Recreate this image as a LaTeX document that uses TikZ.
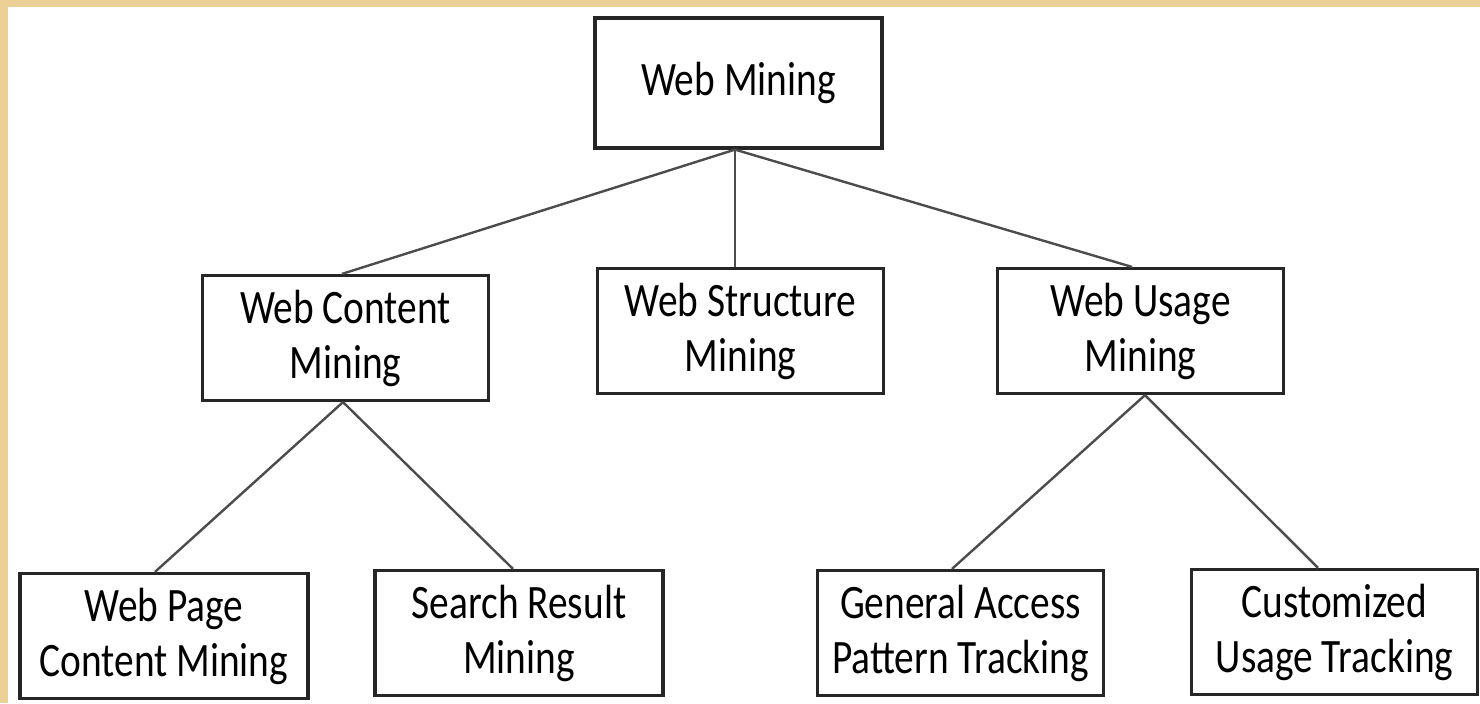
\documentclass[tikz,border=0pt]{standalone}
\usepackage{fontspec}
\setmainfont[FakeStretch=0.82]{Carlito}
\definecolor{parchment}{RGB}{236,208,150}

\begin{document}
\begin{tikzpicture}[x = 0.5pt, y = -0.5pt,
  box/.style = {draw = black!85, line width = 1.6pt, fill = white, align = center, inner sep = 0pt,
    minimum width = 143pt, minimum height = 62.5pt, font = \fontsize{24}{27.5}\selectfont},
  link/.style = {draw = black!70, line width = 1.2pt}]
\useasboundingbox (0,0) rectangle (1480,703);
\fill[parchment] (0,0) rectangle (1480,703);
\fill[white] (8,7) rectangle (1480,703);
% top level
\node[box, minimum width = 143.5pt, minimum height = 65pt] (mining) at (738.5,83) {Web Mining};
% second level
\node[box] (content) at (345.5,338) {Web Content\\Mining};
\node[box] (structure) at (740.5,331) {Web Structure\\Mining};
\node[box] (usage) at (1140.5,331) {Web Usage\\Mining};
% third level
\node[box, minimum width = 144pt] (pagecontent) at (164,636) {Web Page\\Content Mining};
\node[box, minimum width = 144pt] (searchresult) at (519,633) {Search Result\\Mining};
\node[box] (generalaccess) at (960.5,633) {General Access\\Pattern Tracking};
\node[box] (customized) at (1334.5,632) {Customized\\Usage Tracking};
\draw[link] ([xshift=-1.75pt]mining.south) -- ([xshift=-1.75pt]content.north);
\draw[link] ([xshift=-1.75pt]mining.south) -- ([xshift=-2.75pt]structure.north);
\draw[link] ([xshift=-1.75pt]mining.south) -- ([xshift=-4.25pt]usage.north);
\draw[link] ([xshift=-1.25pt]content.south) -- ([xshift=-4.5pt]pagecontent.north);
\draw[link] ([xshift=-1.25pt]content.south) -- ([xshift=-3pt]searchresult.north);
\draw[link] ([xshift=2.25pt]usage.south) -- ([xshift=-4.25pt]generalaccess.north);
\draw[link] ([xshift=2.25pt]usage.south) -- ([xshift=-8.25pt]customized.north);
\end{tikzpicture}
\end{document}
